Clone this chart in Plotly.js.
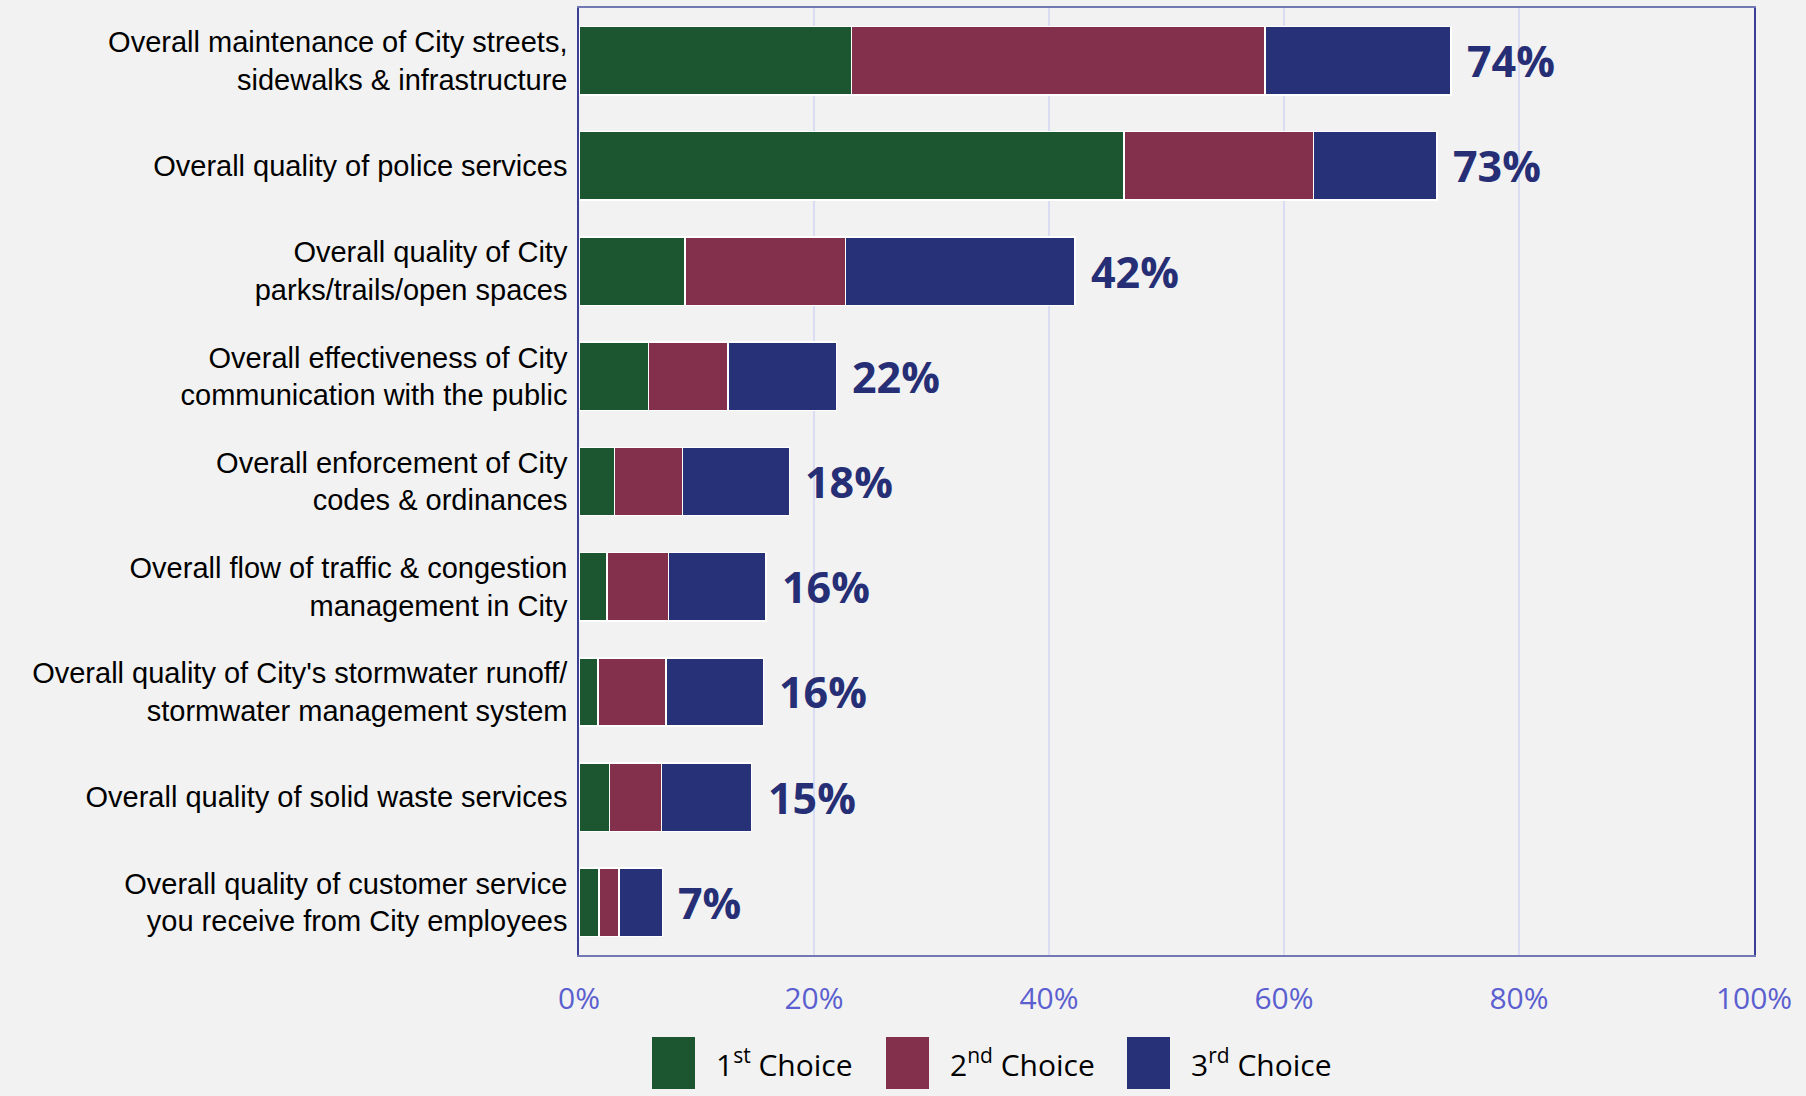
<!DOCTYPE html>
<html>
<head>
<meta charset="utf-8">
<script src="https://cdn.plot.ly/plotly-3.0.1.min.js"></script>
<style>
html,body{margin:0;padding:0;background:#f2f2f2;}
#chart{width:1806px;height:1096px;}
</style>
</head>
<body>
<div id="chart"></div>
<script>
const categories = [
  "Overall maintenance of City streets,<br>sidewalks & infrastructure",
  "Overall quality of police services",
  "Overall quality of City<br>parks/trails/open spaces",
  "Overall effectiveness of City<br>communication with the public",
  "Overall enforcement of City<br>codes & ordinances",
  "Overall flow of traffic & congestion<br>management in City",
  "Overall quality of City's stormwater runoff/<br>stormwater management system",
  "Overall quality of solid waste services",
  "Overall quality of customer service<br>you receive from City employees"
];
const firstChoice  = [23.2, 46.4, 9.0, 5.9, 3.0, 2.4, 1.6, 2.6, 1.7];
const secondChoice = [35.2, 16.1, 13.7, 6.8, 5.8, 5.2, 5.8, 4.4, 1.7];
const thirdChoice  = [15.8, 10.5, 19.5, 9.2, 9.1, 8.3, 8.3, 7.7, 3.7];
const totalLabels  = ["74%", "73%", "42%", "22%", "18%", "16%", "16%", "15%", "7%"];
const seriesNames  = ["1<sup>st</sup> Choice", "2<sup>nd</sup> Choice", "3<sup>rd</sup> Choice"];
const xTicks = [0, 20, 40, 60, 80, 100];
const xTickLabels = ["0%", "20%", "40%", "60%", "80%", "100%"];

const colors = ["#1b5631", "#82304c", "#273178"];
const seriesValues = [firstChoice, secondChoice, thirdChoice];

const traces = seriesValues.map((vals, i) => ({
  type: "bar",
  orientation: "h",
  x: vals,
  y: categories,
  name: seriesNames[i],
  marker: {color: colors[i], line: {color: "#ffffff", width: 1.5}},
  showlegend: false,
  hoverinfo: "x+y"
}));

const totals = categories.map((c, i) => firstChoice[i] + secondChoice[i] + thirdChoice[i]);

const annotations = categories.map((c, i) => ({
  x: totals[i], y: c, xref: "x", yref: "y",
  text: totalLabels[i], showarrow: false,
  xanchor: "left", yanchor: "middle", xshift: 14,
  font: {family: "Open Sans", size: 43, color: "#262f75", weight: 700}
}));

// custom legend (large swatches)
const legendX = [652, 886, 1127];
const shapes = [];
legendX.forEach((lx, i) => {
  shapes.push({
    type: "rect", xref: "paper", yref: "paper",
    x0: (lx - 579) / 1175, x1: (lx + 43 - 579) / 1175,
    y0: -(1089 - 955) / 947, y1: -(1037 - 955) / 947,
    fillcolor: colors[i], line: {width: 0}
  });
  annotations.push({
    xref: "paper", yref: "paper",
    x: (lx + 62 - 579) / 1175, y: -(1063 - 955) / 947,
    text: seriesNames[i], showarrow: false,
    xanchor: "left", yanchor: "middle",
    font: {family: "Open Sans", size: 30, color: "#000000"}
  });
});

const layout = {
  width: 1806, height: 1096,
  paper_bgcolor: "#f2f2f2", plot_bgcolor: "#f2f2f2",
  margin: {l: 579, r: 52, t: 8, b: 141},
  barmode: "stack",
  bargap: 0.35,
  xaxis: {
    range: [0, 100], tickmode: "array", tickvals: xTicks, ticktext: xTickLabels,
    showgrid: true, gridcolor: "#d9dcf2", gridwidth: 1.5,
    zeroline: false,
    showline: true, mirror: true, linecolor: "#7278b4", linewidth: 1.5,
    tickfont: {family: "Open Sans", size: 30, color: "#5b5fcf"},
    ticks: "", ticklabelstandoff: 16
  },
  yaxis: {
    autorange: "reversed",
    showline: true, mirror: true, linecolor: "#3b4096", linewidth: 1.5,
    showgrid: false, zeroline: false,
    tickfont: {family: "Liberation Sans", size: 29, color: "#000000"},
    ticks: "", ticklabelstandoff: 4
  },
  shapes: shapes,
  annotations: annotations
};

Plotly.newPlot("chart", traces, layout, {displayModeBar: false});
</script>
</body>
</html>
